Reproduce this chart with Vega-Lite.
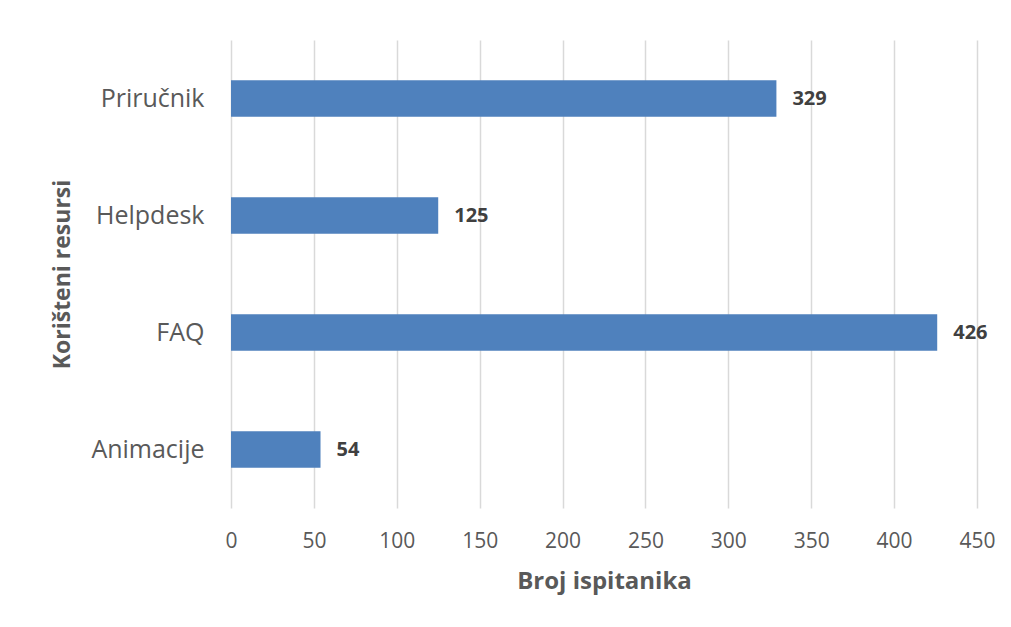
{
  "$schema": "https://vega.github.io/schema/vega-lite/v6.json",
  "autosize": {"type": "none"},
  "width": 746,
  "height": 468,
  "padding": {"left": 231, "top": 40, "right": 34, "bottom": 119},
  "background": "white",
  "data": {"values": [
    {"resurs": "Priručnik", "broj": 329},
    {"resurs": "Helpdesk", "broj": 125},
    {"resurs": "FAQ", "broj": 426},
    {"resurs": "Animacije", "broj": 54}
  ]},
  "encoding": {
    "y": {
      "field": "resurs", "type": "nominal",
      "sort": ["Priručnik", "Helpdesk", "FAQ", "Animacije"],
      "scale": {"paddingInner": 0.69, "paddingOuter": 0.345},
      "axis": {
        "title": "Korišteni resursi", "titleFont": "Open Sans", "titleFontSize": 23, "titleFontWeight": "bold",
        "titleColor": "#595959", "titlePadding": 16,
        "labelFont": "Open Sans", "labelFontSize": 25, "labelColor": "#595959",
        "labelPadding": 27, "ticks": false, "domain": false, "grid": false
      }
    },
    "x": {
      "field": "broj", "type": "quantitative",
      "scale": {"domain": [0, 450], "nice": false},
      "axis": {
        "title": "Broj ispitanika", "titleFont": "Open Sans", "titleFontSize": 24, "titleFontWeight": "bold",
        "titleColor": "#595959", "titlePadding": 18,
        "values": [0, 50, 100, 150, 200, 250, 300, 350, 400, 450],
        "labelFont": "Open Sans", "labelFontSize": 21, "labelColor": "#595959", "labelFlush": false,
        "labelPadding": 22, "ticks": false, "domain": false,
        "grid": true, "gridColor": "#d9d9d9", "gridWidth": 1.5
      }
    }
  },
  "layer": [
    {"mark": {"type": "bar", "color": "#4f81bd"}},
    {"mark": {"type": "text", "align": "left", "dx": 16, "font": "Open Sans", "fontSize": 20, "fontWeight": "bold", "color": "#404040"},
     "encoding": {"text": {"field": "broj", "type": "quantitative"}}}
  ],
  "config": {"view": {"stroke": null}}
}
